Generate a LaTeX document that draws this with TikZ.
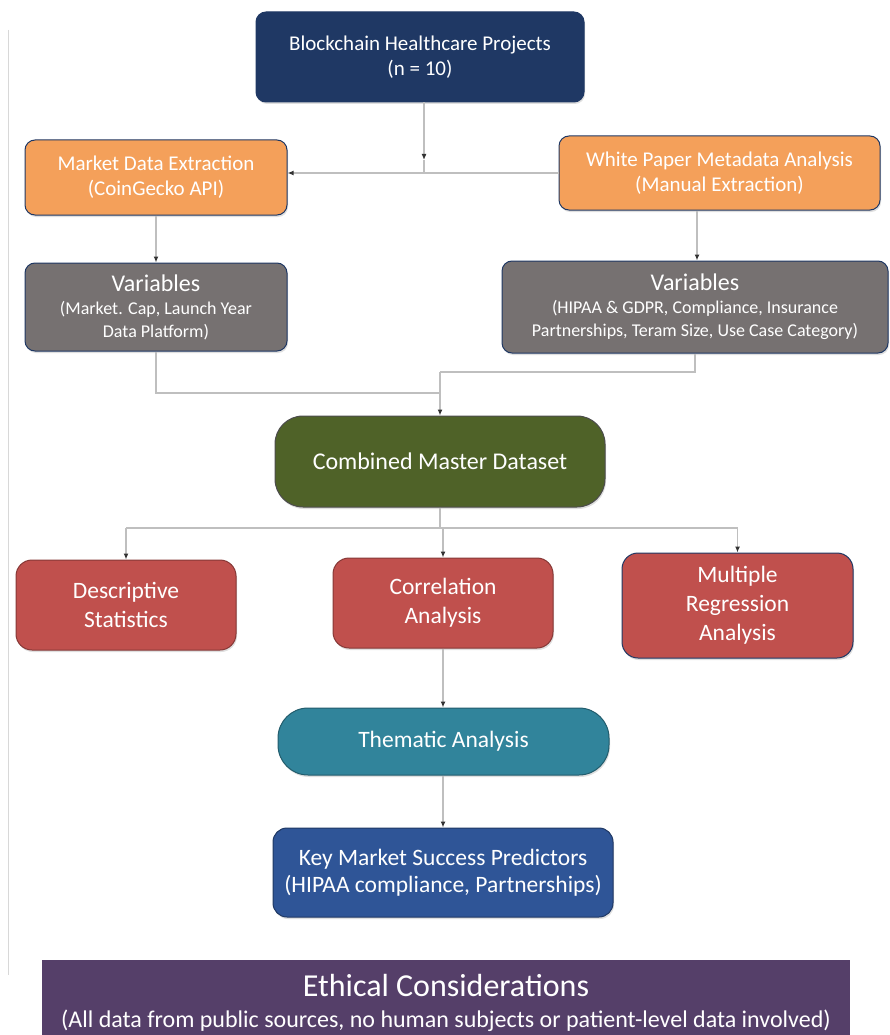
\documentclass[tikz,border=0pt]{standalone}
\usepackage{fontspec}
\setmainfont{Carlito}
\usetikzlibrary{arrows.meta,shadows}
\definecolor{navy}{HTML}{1F3864}
\definecolor{orng}{HTML}{F4A05A}
\definecolor{gry}{HTML}{767171}
\definecolor{grn}{HTML}{4F6228}
\definecolor{rd}{HTML}{C0504D}
\definecolor{teal}{HTML}{31849B}
\definecolor{blu}{HTML}{2F5597}
\definecolor{purp}{HTML}{553F69}
\definecolor{conn}{HTML}{BFBFBF}
\tikzset{
  box/.style={draw=navy, line width=1pt, rounded corners=10pt, text=white, align=center, inner sep=0pt,
     drop shadow={shadow xshift=1pt, shadow yshift=-2pt, opacity=0.25}},
  wire/.style={draw=conn, line width=1.3pt},
  arr/.style={wire, -{Latex[length=6pt,width=5pt,color=black!80]}},
}
\begin{document}
\begin{tikzpicture}[x=1pt,y=-1pt]
\useasboundingbox (0,0) rectangle (889,1035);
\draw[conn!60, line width=1pt] (8,30) -- (8,975);
% nodes
\node[box, fill=navy, minimum width=328, minimum height=90, font=\fontsize{21}{25}\selectfont] (top) at (420,57) {Blockchain Healthcare Projects\\(n = 10)};
\node[box, fill=orng, minimum width=262, minimum height=75, font=\fontsize{21}{25}\selectfont] (mde) at (156,177.5) {Market Data Extraction\\(CoinGecko API)};
\node[box, fill=orng, minimum width=321, minimum height=74, font=\fontsize{21}{25}\selectfont] (wpm) at (719.5,173) {White Paper Metadata Analysis\\(Manual Extraction)};
\node[box, fill=gry, minimum width=262, minimum height=88, font=\fontsize{18}{23}\selectfont] (var1) at (156,307) {{\fontsize{24}{27}\selectfont Variables}\\(Market. Cap, Launch Year\\Data Platform)};
\node[box, fill=gry, minimum width=386, minimum height=92, font=\fontsize{18}{23}\selectfont] (var2) at (695,307) {{\fontsize{24}{27}\selectfont Variables}\\(HIPAA \& GDPR, Compliance, Insurance\\Partnerships, Teram Size, Use Case Category)};
\node[box, fill=grn, draw=black!70, rounded corners=28pt, minimum width=330, minimum height=91, font=\fontsize{24}{28}\selectfont] (grn) at (440,461.5) {Combined Master Dataset};
\node[box, fill=rd, draw=rd!70!black, rounded corners=16pt, minimum width=220, minimum height=90, font=\fontsize{23.5}{29}\selectfont] (desc) at (126,605) {Descriptive\\Statistics};
\node[box, fill=rd, draw=rd!70!black, rounded corners=16pt, minimum width=220, minimum height=90, font=\fontsize{23.5}{29}\selectfont] (corr) at (443,603) {Correlation\\Analysis};
\node[box, fill=rd, rounded corners=16pt, minimum width=231, minimum height=105, font=\fontsize{23.5}{29}\selectfont] (mult) at (737.5,605.5) {Multiple\\Regression\\Analysis};
\node[box, fill=teal, draw=teal!70!black, rounded corners=30pt, minimum width=331, minimum height=67, font=\fontsize{23.5}{28}\selectfont] (them) at (443.5,741.5) {Thematic Analysis};
\node[box, fill=blu, rounded corners=14pt, minimum width=340, minimum height=89, font=\fontsize{23.5}{27}\selectfont] (key) at (443,872.5) {Key Market Success Predictors\\(HIPAA compliance, Partnerships)};
\node[fill=purp, inner sep=0pt, minimum width=808, minimum height=76] (eth) at (446,998) {};
\node[text=white, align=center, inner sep=0pt, font=\fontsize{24}{31}\selectfont] (ethtxt) at (446,1003) {{\fontsize{32}{35}\selectfont Ethical Considerations}\\(All data from public sources, no human subjects or patient-level data involved)};
% connectors
\coordinate (j1) at (424,173);
\coordinate (a1) at (424,160);
\draw[arr] (top.south -| a1) -- (a1);
\draw[wire] (a1) -- (j1);
\draw[arr] (j1) -- (mde.east |- j1);
\draw[wire] (j1) -- (wpm.west |- j1);
\draw[arr] (mde.south) -- (var1.north -| mde.south);
\draw[arr] (wpm.south -| 697,0) -- (var2.north -| 697,0);
\coordinate (j2) at (440,372);
\draw[wire] (var1.south) |- (440,393);
\draw[wire] (var2.south) |- (j2);
\draw[arr] (j2) -- (grn.north);
\coordinate (j3) at (440,528);
\draw[wire] (grn.south) -- (j3);
\draw[wire] (desc.north |- j3) -- (mult.north |- j3);
\draw[arr] (desc.north |- j3) -- (desc.north);
\draw[arr] (corr.north |- j3) -- (corr.north);
\draw[arr] (mult.north |- j3) -- (mult.north);
\draw[arr] (corr.south) -- (them.north -| corr.south);
\draw[arr] (them.south -| key.north) -- (key.north);
\end{tikzpicture}
\end{document}
